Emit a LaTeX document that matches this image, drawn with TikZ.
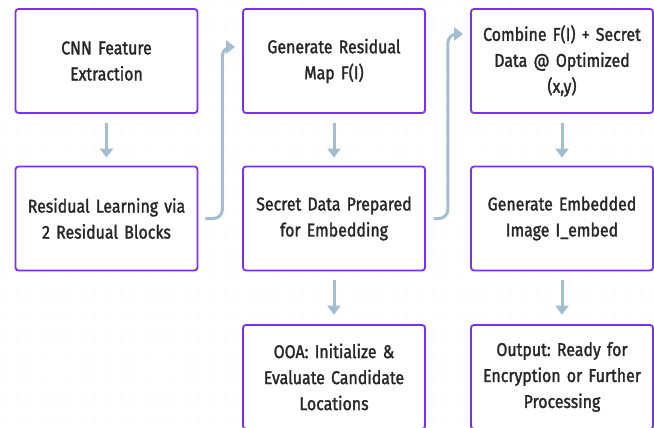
\documentclass[tikz,border=0pt]{standalone}
\usepackage{fontspec}
\setmainfont[FakeStretch=0.86,FakeBold=1.5,WordSpace=0.8]{Fira Sans}
\usetikzlibrary{arrows.meta}
\definecolor{boxpurple}{HTML}{7B2FF2}
\definecolor{conncol}{HTML}{A2BED3}
\definecolor{txtcol}{HTML}{262626}
\frenchspacing
\begin{document}
\begin{tikzpicture}[x=1pt,y=-1pt,
  stepbox/.style={draw=boxpurple,line width=1.8pt,rounded corners=3pt,fill=white,
    minimum width=182pt,minimum height=104pt,align=center,text width=175pt,
    text=txtcol,font=\fontsize{18.5}{26}\selectfont\frenchspacing},
  conn/.style={draw=conncol,line width=3pt,-{Triangle[width=13pt,length=9pt]}},
  bent/.style={conn,rounded corners=9pt}]
\useasboundingbox (0,0) rectangle (654,428);
\fill[white] (0,0) rectangle (654,428);
\foreach \i in {0,...,50}{\foreach \j in {0,...,33}{
  \fill[black!9] (4+13*\i,4+13*\j) circle (0.7pt);}}
\begin{scope}
\clip (0,0) rectangle (654,428);
\node[stepbox] (a1) at (106.5,61) {CNN Feature\\Extraction};
\node[stepbox] (a2) at (106.5,218.5) {Residual Learning via\\2 Residual Blocks};
\node[stepbox] (b1) at (334,61) {Generate Residual\\Map F(I)};
\node[stepbox] (b2) at (334,218.5) {Secret Data Prepared\\for Embedding};
\node[stepbox] (b3) at (334,377) {OOA: Initialize \&\\Evaluate Candidate\\Locations};
\node[stepbox] (c1) at (562,61) {Combine F(I) + Secret\\Data @ Optimized\\(x,y)};
\node[stepbox] (c2) at (562,218.5) {Generate Embedded\\Image I\_embed};
\node[stepbox] (c3) at (562,377) {Output: Ready for\\Encryption or Further\\Processing};
\end{scope}
\draw[conn,shorten <=9pt,shorten >=8pt] (a1.south) -- (a2.north);
\draw[conn,shorten <=9pt,shorten >=8pt] (b1.south) -- (b2.north);
\draw[conn,shorten <=9pt,shorten >=9.5pt] (b2.south) -- (b3.north);
\draw[conn,shorten <=9pt,shorten >=8pt] (c1.south) -- (c2.north);
\draw[conn,shorten <=9pt,shorten >=9.5pt] (c2.south) -- (c3.north);
\coordinate (s1) at ([xshift=7pt]a2.east);
\coordinate (t1) at ([xshift=-7pt,yshift=14pt]b1.west);
\coordinate (s2) at ([xshift=8pt]b2.east);
\coordinate (t2) at ([xshift=-7pt,yshift=27pt]c1.west);
\draw[bent] (s1) -- ++(17,0) |- (t1);
\draw[bent] (s2) -- ++(14,0) |- (t2);
\end{tikzpicture}
\end{document}
